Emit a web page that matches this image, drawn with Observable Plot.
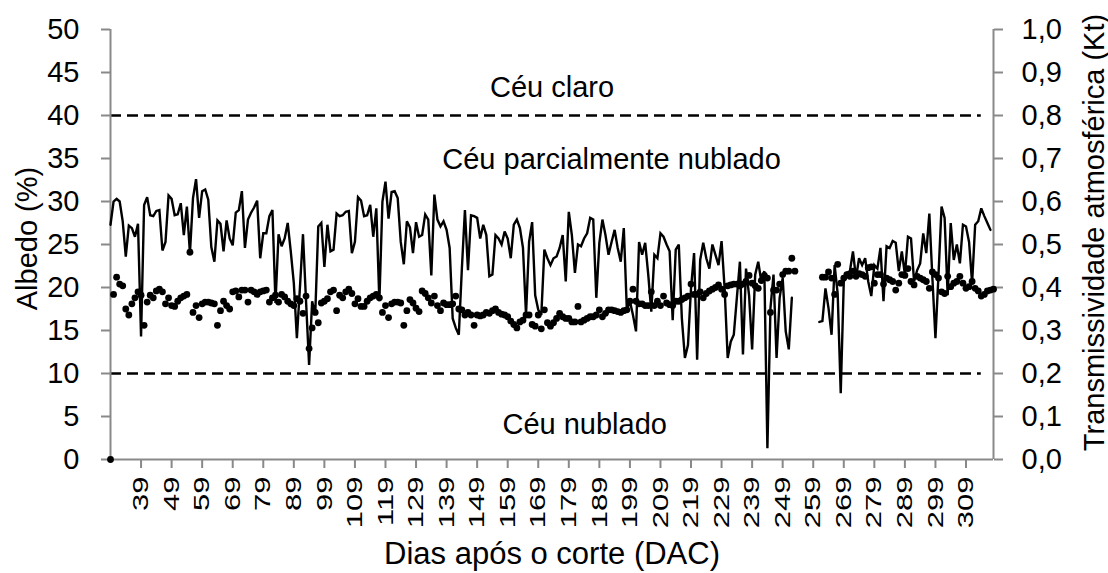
<!DOCTYPE html>
<html><head><meta charset="utf-8">
<script src="https://cdn.jsdelivr.net/npm/d3@7"></script>
<script src="https://cdn.jsdelivr.net/npm/@observablehq/plot@0.6"></script>
<style>html,body{margin:0;padding:0;background:#fff}#chart svg{display:block}</style>
</head><body><div id="chart"></div><script>
// Categories: days after cut (DAC), one value per day
const firstDay = 29, lastDay = 318;

// Transmissividade atmosférica (Kt), right axis, days 29..318 (null = no data)
const kt = [
  .546,.600,.606,.600,.554,.472,.544,.538,.518,.548,
  .286,.592,.610,.568,.566,.578,.580,.486,.506,.614,
  .606,.568,.570,.596,.522,.588,.480,.608,.652,.562,
  .624,.628,.604,.494,.460,.556,.548,.484,.556,.514,
  .498,.574,.580,.624,.492,.558,.574,.586,.602,.468,
  .526,.526,.566,.580,.364,.524,.496,.514,.550,.484,
  .410,.282,.400,.524,.368,.220,.368,.336,.542,.550,
  .448,.546,.484,.488,.572,.566,.568,.576,.578,.480,
  .506,.610,.602,.566,.568,.592,.518,.584,.368,.600,
  .646,.560,.622,.624,.608,.506,.454,.554,.540,.480,
  .552,.518,.522,.570,.558,.428,.616,.558,.542,.554,
  .534,.492,.328,.306,.290,.444,.580,.440,.568,.566,
  .562,.514,.546,.522,.426,.430,.522,.514,.500,.530,
  .514,.468,.546,.558,.538,.492,.336,.506,.552,.382,
  .348,.336,.488,.468,.452,.468,.472,.492,.522,.414,
  .576,.522,.434,.500,.496,.514,.526,.562,.558,.376,
  .504,.558,.522,.476,.506,.534,.492,.460,.538,.348,
  .368,.336,.298,.506,.476,.504,.430,.344,.476,.468,
  .526,.518,.500,.484,.324,.488,.500,.328,.236,.266,
  .398,.480,.232,.464,.504,.468,.444,.500,.476,.452,
  .508,.398,.236,.274,.290,.376,.460,.244,.444,.382,
  .256,.430,.460,.414,.438,.026,.352,.430,.236,.376,
  .422,.298,.256,.376,null,null,null,null,null,null,
  null,null,.320,.322,.398,.352,.290,.452,.386,.154,
  .414,.434,.438,.484,.422,.468,.452,.468,.414,.380,
  .452,.444,.492,.368,.496,.492,.508,.504,.438,.484,
  .430,.518,.514,.414,.440,.456,.526,.480,.572,.422,
  .282,.430,.588,.562,.382,.550,.464,.500,.456,.546,
  .542,.506,.410,.546,.554,.584,.566,.550,.534,null
];

// Albedo (%), left axis, days 29..318 (null = no data)
const albedo = [
  0,19.2,21.2,20.4,20.2,17.5,16.8,18.1,18.8,19.5,
  19.1,15.6,18.3,19.1,18.8,19.6,19.8,19.5,18.1,18.8,
  17.9,17.8,18.4,18.8,19.0,19.2,24.1,17.1,17.9,16.5,
  18.1,18.3,18.3,18.2,18.1,15.6,17.3,18.4,17.9,17.5,
  19.5,19.6,18.9,19.7,19.7,18.3,19.7,19.5,19.2,19.5,
  19.6,19.7,18.3,18.8,19.1,18.3,19.2,18.9,18.4,18.1,
  17.9,18.7,18.4,17.0,19.0,12.9,15.3,17.1,15.9,18.2,
  18.4,18.7,19.5,19.7,17.3,19.1,18.8,19.5,19.8,19.3,
  18.1,18.7,17.8,17.8,18.4,18.8,19.0,19.2,18.8,17.1,
  17.9,16.5,18.1,18.3,18.3,18.2,15.6,17.3,18.6,18.2,
  17.6,17.2,19.6,19.3,18.8,18.2,19.0,17.9,17.3,18.2,
  18.0,18.0,18.1,19.0,17.5,17.4,16.8,17.1,16.8,15.6,
  16.8,16.7,16.8,17.1,17.0,17.3,17.5,17.1,16.9,16.8,
  16.6,16.1,15.7,15.3,16.0,16.2,16.8,16.8,15.7,15.5,
  16.8,15.2,17.4,15.9,15.5,15.9,16.4,17.0,16.6,16.4,
  16.4,16.0,16.0,17.8,16.0,16.2,16.4,16.6,16.6,16.8,
  17.4,16.6,17.0,17.4,17.4,17.3,17.2,17.1,17.3,17.4,
  18.4,19.8,18.4,18.1,18.1,17.9,17.9,19.5,17.9,18.4,
  17.9,19.0,18.2,18.0,17.9,18.4,18.4,18.6,18.8,19.0,
  20.4,19.2,19.2,19.5,18.8,19.3,19.6,19.8,20.0,20.3,
  19.8,19.2,20.2,20.3,20.4,20.4,20.2,20.4,20.7,21.4,
  20.5,20.2,19.9,20.8,21.4,21.1,17.1,19.7,19.7,20.4,
  21.5,21.9,21.9,23.4,21.9,null,null,null,null,null,
  null,null,null,21.2,21.2,21.8,21.1,19.2,22.7,20.5,
  21.1,21.5,21.3,21.9,21.3,21.6,21.5,21.3,22.3,22.4,
  20.5,21.5,21.5,20.4,21.1,20.9,20.7,19.7,20.5,21.5,
  21.4,22.2,20.7,20.3,21.3,21.1,20.9,20.7,19.9,21.8,
  21.5,21.1,19.5,19.3,21.3,20.1,20.5,20.7,21.3,20.5,
  19.9,20.1,20.7,19.9,19.6,19.0,19.2,19.6,19.7,19.8
];

const xTickLabels = [39,49,59,69,79,89,99,109,119,129,139,149,159,169,179,189,199,209,219,229,239,249,259,269,279,289,299,309];
const leftTicks = [0,5,10,15,20,25,30,35,40,45,50];
const rightTickLabels = ["0,0","0,1","0,2","0,3","0,4","0,5","0,6","0,7","0,8","0,9","1,0"];
const thresholds = [40, 10];
const zoneLabels = ["Céu claro", "Céu parcialmente nublado", "Céu nublado"];
const xTitle = "Dias após o corte (DAC)";
const yLeftTitle = "Albedo (%)";
const yRightTitle = "Transmissividade atmosférica (Kt)";

const days = d3.range(firstDay, lastDay + 1);
const rows = days.map((day, i) => ({day, kt: kt[i], albedo: albedo[i]}));
const ktScale = 50; // right axis 1,0 aligns with left axis 50

const gray = "#898989";
const font = "'Liberation Sans', Arial, sans-serif";

const chart = Plot.plot({
  width: 1108, height: 573,
  marginLeft: 110, marginRight: 115, marginTop: 29, marginBottom: 114,
  style: {fontFamily: font, fontSize: "29px", background: "#fff", color: "#000", overflow: "visible"},
  x: {domain: [firstDay, lastDay], axis: null},
  y: {domain: [0, 50], axis: null},
  marks: [
    Plot.ruleY(thresholds, {y: d => d, x1: firstDay, x2: 314, stroke: "#000", strokeWidth: 2.6, strokeDasharray: "11,6"}),
    Plot.ruleX([firstDay], {stroke: gray, strokeWidth: 2}),
    Plot.ruleX([lastDay], {stroke: gray, strokeWidth: 2}),
    Plot.ruleY([0], {stroke: gray, strokeWidth: 2}),
    Plot.axisY({anchor: "left", ticks: leftTicks, tickSize: 9, tickPadding: 22, stroke: gray, strokeWidth: 2, fill: "#000", fontSize: 29, label: null, tickFormat: d => String(d)}),
    Plot.axisY({anchor: "right", ticks: leftTicks, tickSize: 9, tickPadding: 19, stroke: gray, strokeWidth: 2, fill: "#000", fontSize: 29, label: null, tickFormat: (d, i) => rightTickLabels[i]}),
    Plot.axisX({anchor: "bottom", ticks: xTickLabels, tickSize: 9, tickPadding: 8, tickRotate: -90, stroke: gray, strokeWidth: 2, fill: "#000", fontSize: 31, label: null, tickFormat: d => String(d)}),
    Plot.line(rows, {x: "day", y: d => d.kt == null ? NaN : d.kt * ktScale, stroke: "#000", strokeWidth: 2.4, strokeLinejoin: "miter", strokeMiterlimit: 3}),
    Plot.dot(rows.filter(d => d.albedo != null), {x: "day", y: "albedo", r: 3.4, fill: "#000", stroke: "none"}),
    Plot.text([zoneLabels[0]], {x: () => 173.5, y: () => 43.2, text: d => d, fontSize: 29, fill: "#000"}),
    Plot.text([zoneLabels[1]], {x: () => 193, y: () => 34.9, text: d => d, fontSize: 29, fill: "#000"}),
    Plot.text([zoneLabels[2]], {x: () => 184.2, y: () => 4.1, text: d => d, fontSize: 29, fill: "#000"}),
    Plot.text([xTitle], {frameAnchor: "bottom", textAnchor: "middle", dy: 104, text: d => d, fontSize: 31, fill: "#000"}),
    Plot.text([yLeftTitle], {frameAnchor: "left", textAnchor: "middle", dx: -83, dy: -6, rotate: -90, text: d => d, fontSize: 29, fill: "#000"}),
    Plot.text([yRightTitle], {frameAnchor: "right", textAnchor: "middle", dx: 101, dy: -12, rotate: -90, text: d => d, fontSize: 29, fill: "#000"})
  ]
});

// Excel renders the rotated category labels compressed across the glyph height
d3.select(chart).selectAll('g[aria-label="x-axis tick label"] text').each(function() {
  const t = this.getAttribute("transform") || "";
  this.setAttribute("transform", t + " scale(1,0.72)");
});

document.getElementById("chart").appendChild(chart);
</script></body></html>
